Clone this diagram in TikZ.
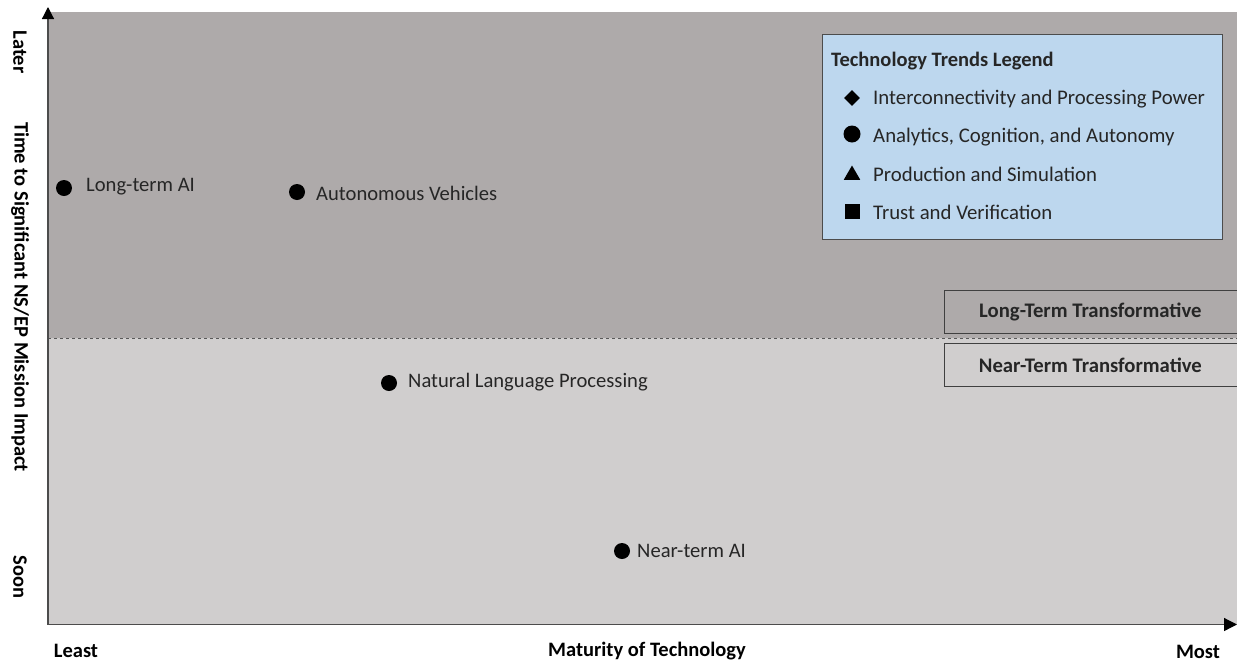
\documentclass[tikz,border=0pt]{standalone}
\usepackage{fontspec}
\setmainfont{Carlito}
\usetikzlibrary{arrows.meta,shapes.geometric}

\definecolor{longgray}{HTML}{AEAAAA}
\definecolor{neargray}{HTML}{D0CECE}
\definecolor{legendblue}{HTML}{BDD7EE}
\definecolor{inkgray}{HTML}{262626}

\tikzset{
  tech/.style={circle,fill=black,inner sep=0pt,minimum size=16pt},
  techlabel/.style={anchor=west,inner sep=0pt,text=inkgray,font=\fontsize{20.6}{24}\selectfont},
  axislabel/.style={inner sep=0pt,text=black,font=\bfseries\fontsize{20.5}{24}\selectfont},
  zonebox/.style={draw=black!75,line width=0.8pt,minimum height=43pt,minimum width=310pt,anchor=west,
    font=\bfseries\fontsize{20.7}{24}\selectfont,text=inkgray},
  legendlabel/.style={anchor=west,inner sep=0pt,text=inkgray,font=\fontsize{20.8}{24}\selectfont}
}

\begin{document}
\begin{tikzpicture}[x=1pt,y=-1pt]
\useasboundingbox (0,0) rectangle (1237,662);
\fill[longgray] (48,12) rectangle (1237,338);
\fill[neargray] (48,338) rectangle (1237,624);
\draw[black!65,dashed,line width=0.8pt] (48,338) -- (1237,338);

% zone boxes
\begin{scope}
\clip (0,0) rectangle (1237,662);
\node[zonebox] (LT) at (944,311.5) {\hspace*{-18pt}Long-Term Transformative};
\node[zonebox] (NT) at (944,365) {\hspace*{-18pt}Near-Term Transformative};
\end{scope}

% axes
\coordinate (O) at (48,624.5);
\coordinate (Ytop) at (48,7);
\coordinate (Xend) at (1237,624.5);
\draw[black!70,line width=1.2pt,-{Triangle[length=12pt,width=12pt,black]}] (O) -- (Ytop);
\draw[black!70,line width=1.2pt,-{Triangle[length=13pt,width=13pt,black]}] (O) -- (Xend);

\node[axislabel,rotate=-90] (later) at (20,52) {Later};
\node[axislabel,rotate=-90] (ytitle) at (20,297) {Time to Significant NS/EP Mission Impact};
\node[axislabel,rotate=-90] (soon) at (20,577) {Soon};
\node[axislabel] (least) at (76,651) {Least};
\node[axislabel] (xtitle) at (647,651) {Maturity of Technology};
\node[axislabel] (most) at (1198,652) {Most};

% technologies
\node[tech] (ltai) at (64,188) {};
\node[techlabel] (ltailbl) at (86,187) {Long-term AI};
\node[tech] (av) at (297,192) {};
\node[techlabel] (avlbl) at (316,193) {Autonomous Vehicles};
\node[tech] (nlp) at (389,383) {};
\node[techlabel] (nlplbl) at (408,382) {Natural Language Processing};
\node[tech] (ntai) at (622,551) {};
\node[techlabel] (ntailbl) at (637,551) {Near-term AI};

% legend
\draw[black!70,fill=legendblue,line width=0.8pt] (822,34) rectangle (1222,239);
\node[anchor=west,inner sep=0pt,text=inkgray,font=\bfseries\fontsize{20.5}{24}\selectfont] (legtitle) at (831,61) {Technology Trends Legend};
\node[diamond,fill=black,inner sep=0pt,minimum size=16pt] (m1) at (852,98) {};
\node[legendlabel] (l1) at (873,99) {Interconnectivity and Processing Power};
\node[circle,fill=black,inner sep=0pt,minimum size=17pt] (m2) at (852,134) {};
\node[legendlabel] (l2) at (873,137) {Analytics, Cognition, and Autonomy};
\node[regular polygon,regular polygon sides=3,fill=black,inner sep=0pt,minimum size=19pt] (m3) at (852,175) {};
\node[legendlabel] (l3) at (873,174) {Production and Simulation};
\node[rectangle,fill=black,inner sep=0pt,minimum size=15pt] (m4) at (852,211) {};
\node[legendlabel] (l4) at (873,212) {Trust and Verification};

\end{tikzpicture}
\end{document}
